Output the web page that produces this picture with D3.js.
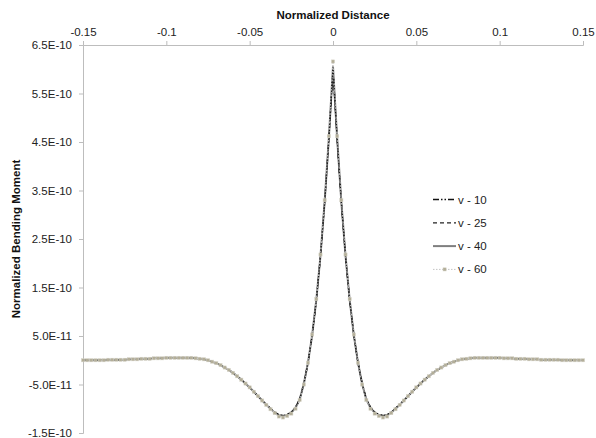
<!DOCTYPE html>
<html><head><meta charset="utf-8">
<script src="https://cdn.jsdelivr.net/npm/d3@7"></script>
<style>body{margin:0;background:#fff}svg{display:block;font-family:"Liberation Sans",Arial,sans-serif}</style>
</head><body><svg id="c" width="596" height="438"></svg>
<script>
const distance = [
-0.15,-0.1475,-0.145,-0.1425,-0.14,-0.1375,-0.135,-0.1325,-0.13,-0.1275,
-0.125,-0.1225,-0.12,-0.1175,-0.115,-0.1125,-0.11,-0.1075,-0.105,-0.1025,
-0.1,-0.0975,-0.095,-0.0925,-0.09,-0.0875,-0.085,-0.0825,-0.08,-0.0775,
-0.075,-0.0725,-0.07,-0.0675,-0.065,-0.0625,-0.06,-0.0575,-0.055,-0.0525,
-0.05,-0.0475,-0.045,-0.0425,-0.04,-0.0375,-0.035,-0.0325,-0.03,-0.0275,
-0.025,-0.0225,-0.02,-0.0175,-0.015,-0.0125,-0.01,-0.0075,-0.005,-0.0025,
0,
0.0025,0.005,0.0075,0.01,0.0125,0.015,0.0175,0.02,0.0225,0.025,
0.0275,0.03,0.0325,0.035,0.0375,0.04,0.0425,0.045,0.0475,0.05,
0.0525,0.055,0.0575,0.06,0.0625,0.065,0.0675,0.07,0.0725,0.075,
0.0775,0.08,0.0825,0.085,0.0875,0.09,0.0925,0.095,0.0975,0.1,
0.1025,0.105,0.1075,0.11,0.1125,0.115,0.1175,0.12,0.1225,0.125,
0.1275,0.13,0.1325,0.135,0.1375,0.14,0.1425,0.145,0.1475,0.15];

// values in units of 1E-10
const v10 = [
0.00,0.00,0.00,0.00,0.00,0.00,0.01,0.01,0.01,0.01,
0.01,0.02,0.02,0.02,0.03,0.03,0.03,0.04,0.04,0.04,
0.05,0.05,0.05,0.05,0.05,0.05,0.05,0.04,0.03,0.02,
0.00,-0.03,-0.06,-0.10,-0.15,-0.20,-0.26,-0.33,-0.40,-0.48,
-0.56,-0.65,-0.74,-0.83,-0.91,-0.99,-1.07,-1.12,-1.14,-1.12,
-1.07,-0.97,-0.80,-0.48,-0.05,0.51,1.24,2.15,3.25,4.54,
6.00,
4.54,3.25,2.15,1.24,0.51,-0.05,-0.48,-0.80,-0.97,-1.07,
-1.12,-1.14,-1.12,-1.07,-0.99,-0.91,-0.83,-0.74,-0.65,-0.56,
-0.48,-0.40,-0.33,-0.26,-0.20,-0.15,-0.10,-0.06,-0.03,0.00,
0.02,0.03,0.04,0.05,0.05,0.05,0.05,0.05,0.05,0.05,
0.04,0.04,0.04,0.03,0.03,0.03,0.02,0.02,0.02,0.01,
0.01,0.01,0.01,0.01,0.00,0.00,0.00,0.00,0.00,0.00];
const v25 = [
0.00,0.00,0.00,0.00,0.00,0.00,0.01,0.01,0.01,0.01,
0.01,0.02,0.02,0.02,0.03,0.03,0.03,0.04,0.04,0.04,
0.05,0.05,0.05,0.05,0.05,0.05,0.05,0.04,0.03,0.02,
0.00,-0.03,-0.06,-0.10,-0.15,-0.20,-0.26,-0.33,-0.40,-0.48,
-0.56,-0.65,-0.74,-0.83,-0.92,-1.00,-1.07,-1.13,-1.14,-1.12,
-1.07,-0.98,-0.80,-0.49,-0.05,0.52,1.24,2.15,3.26,4.56,
6.02,
4.56,3.26,2.15,1.24,0.52,-0.05,-0.49,-0.80,-0.98,-1.07,
-1.12,-1.14,-1.13,-1.07,-1.00,-0.92,-0.83,-0.74,-0.65,-0.56,
-0.48,-0.40,-0.33,-0.26,-0.20,-0.15,-0.10,-0.06,-0.03,0.00,
0.02,0.03,0.04,0.05,0.05,0.05,0.05,0.05,0.05,0.05,
0.04,0.04,0.04,0.03,0.03,0.03,0.02,0.02,0.02,0.01,
0.01,0.01,0.01,0.01,0.00,0.00,0.00,0.00,0.00,0.00];
const v40 = [
0.00,0.00,0.00,0.00,0.00,0.00,0.01,0.01,0.01,0.01,
0.01,0.02,0.02,0.02,0.03,0.03,0.03,0.04,0.04,0.04,
0.05,0.05,0.05,0.05,0.05,0.05,0.05,0.04,0.03,0.02,
0.00,-0.03,-0.06,-0.10,-0.15,-0.20,-0.26,-0.33,-0.40,-0.48,
-0.56,-0.65,-0.74,-0.83,-0.92,-1.00,-1.08,-1.14,-1.15,-1.13,
-1.08,-0.98,-0.81,-0.49,-0.05,0.52,1.25,2.16,3.27,4.58,
6.05,
4.58,3.27,2.16,1.25,0.52,-0.05,-0.49,-0.81,-0.98,-1.08,
-1.13,-1.15,-1.14,-1.08,-1.00,-0.92,-0.83,-0.74,-0.65,-0.56,
-0.48,-0.40,-0.33,-0.26,-0.20,-0.15,-0.10,-0.06,-0.03,0.00,
0.02,0.03,0.04,0.05,0.05,0.05,0.05,0.05,0.05,0.05,
0.04,0.04,0.04,0.03,0.03,0.03,0.02,0.02,0.02,0.01,
0.01,0.01,0.01,0.01,0.00,0.00,0.00,0.00,0.00,0.00];
const v60 = [
0.00,0.00,0.00,0.00,0.00,0.00,0.01,0.01,0.01,0.01,
0.01,0.02,0.02,0.02,0.03,0.03,0.03,0.04,0.04,0.04,
0.05,0.05,0.05,0.05,0.05,0.05,0.05,0.04,0.03,0.02,
0.00,-0.03,-0.06,-0.10,-0.15,-0.20,-0.26,-0.33,-0.40,-0.48,
-0.56,-0.65,-0.74,-0.83,-0.92,-1.01,-1.09,-1.16,-1.18,-1.15,
-1.10,-1.00,-0.82,-0.50,-0.05,0.53,1.26,2.18,3.30,4.62,
6.16,
4.62,3.30,2.18,1.26,0.53,-0.05,-0.50,-0.82,-1.00,-1.10,
-1.15,-1.18,-1.16,-1.09,-1.01,-0.92,-0.83,-0.74,-0.65,-0.56,
-0.48,-0.40,-0.33,-0.26,-0.20,-0.15,-0.10,-0.06,-0.03,0.00,
0.02,0.03,0.04,0.05,0.05,0.05,0.05,0.05,0.05,0.05,
0.04,0.04,0.04,0.03,0.03,0.03,0.02,0.02,0.02,0.01,
0.01,0.01,0.01,0.01,0.00,0.00,0.00,0.00,0.00,0.00];

const seriesNames = ["v - 10","v - 25","v - 40","v - 60"];
const xTicks = [-0.15,-0.1,-0.05,0,0.05,0.1,0.15];
const xTickLabels = ["-0.15","-0.1","-0.05","0","0.05","0.1","0.15"];
const yTicks = [6.5,5.5,4.5,3.5,2.5,1.5,0.5,-0.5,-1.5];
const yTickLabels = ["6.5E-10","5.5E-10","4.5E-10","3.5E-10","2.5E-10","1.5E-10","5.0E-11","-5.0E-11","-1.5E-10"];
const xTitle = "Normalized Distance";
const yTitle = "Normalized Bending Moment";

const svg = d3.select("#c");
const L = 83, R = 583, T = 45, B = 433;
const x = d3.scaleLinear().domain([-0.15, 0.15]).range([L, R]);
const y = d3.scaleLinear().domain([-1.5, 6.5]).range([B, T]);
const axisColor = "#bdbdbd";

// x axis (top)
const gx = svg.append("g").attr("transform", `translate(0,${T})`)
  .call(d3.axisTop(x).tickValues(xTicks).tickFormat((d,i)=>xTickLabels[i]).tickSizeOuter(0).tickSize(4).tickPadding(5));
gx.select(".domain").attr("stroke", axisColor);
gx.selectAll(".tick line").attr("stroke", axisColor);
gx.selectAll(".tick text").attr("font-size", "11.5px").attr("fill", "#222").attr("font-family", "Liberation Sans, Arial, sans-serif");

// y axis
const gy = svg.append("g").attr("transform", `translate(${L},0)`)
  .call(d3.axisLeft(y).tickValues(yTicks).tickFormat((d,i)=>yTickLabels[i]).tickSizeOuter(0).tickSize(4).tickPadding(7));
gy.select(".domain").attr("stroke", axisColor);
gy.selectAll(".tick line").attr("stroke", axisColor);
gy.selectAll(".tick text").attr("font-size", "11.5px").attr("fill", "#222").attr("font-family", "Liberation Sans, Arial, sans-serif");

svg.append("text").attr("x", 333).attr("y", 19).attr("text-anchor", "middle")
  .attr("font-size", "11.5px").attr("font-weight", "bold").attr("fill", "#111").text(xTitle);
svg.append("text").attr("transform", "translate(20,239) rotate(-90)").attr("text-anchor", "middle")
  .attr("font-size", "11.5px").attr("font-weight", "bold").attr("fill", "#111").text(yTitle);

const styles = [
  {stroke:"#111", width:1.3, dash:"6,2,1.5,2,1.5,2"},
  {stroke:"#222", width:1.3, dash:"4,3"},
  {stroke:"#7f7f7f", width:2, dash:null},
  {stroke:"#c4c4c4", width:1, dash:"1.5,1.5"}
];
const data = [v10, v25, v40, v60];
const line = d3.line().x((d,i)=>x(distance[i])).y(d=>y(d));

const order = [2, 0, 1, 3];
order.forEach(si => {
  const s = styles[si];
  const p = svg.append("path").datum(data[si]).attr("d", line)
    .attr("fill", "none").attr("stroke", s.stroke).attr("stroke-width", s.width)
    .attr("stroke-linejoin", "round");
  if (s.dash) p.attr("stroke-dasharray", s.dash);
});

// markers for v - 60
svg.append("g").selectAll("rect").data(v60).join("rect")
  .attr("x", (d,i)=>x(distance[i]) - 1.6).attr("y", d=>y(d) - 1.6)
  .attr("width", 3.2).attr("height", 3.2)
  .attr("fill", "#b3ae98").attr("stroke", "#d8d6cc").attr("stroke-width", 0.5);

// legend
const lg = svg.append("g");
seriesNames.forEach((name, i) => {
  const yy = 199.5 + i * 23.3;
  const s = styles[i];
  const ln = lg.append("line").attr("x1", 433).attr("x2", 456).attr("y1", yy).attr("y2", yy)
    .attr("stroke", s.stroke).attr("stroke-width", s.width);
  if (s.dash) ln.attr("stroke-dasharray", s.dash);
  if (i === 3) lg.append("rect").attr("x", 443).attr("y", yy - 1.6).attr("width", 3.2).attr("height", 3.2)
    .attr("fill", "#b3ae98").attr("stroke", "#d8d6cc").attr("stroke-width", 0.5);
  lg.append("text").attr("x", 458).attr("y", yy + 4).attr("font-size", "11.5px").attr("fill", "#222").text(name);
});
</script></body></html>
